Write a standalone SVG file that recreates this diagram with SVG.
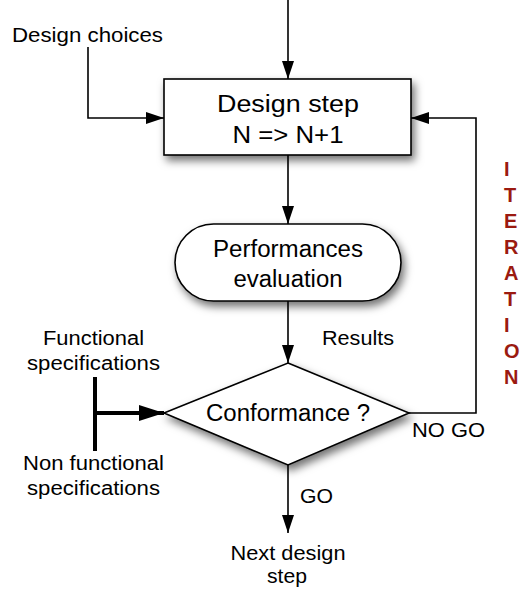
<svg xmlns="http://www.w3.org/2000/svg" width="520" height="590" viewBox="0 0 520 590">
  <style>
    text { font-family: "Liberation Sans", Arial, sans-serif; fill: #000; }
    .node-text { font-size: 23.5px; }
    .label { font-size: 20px; }
    .iter { font-size: 20px; font-weight: bold; fill: #9b1a10; }
    .shape { fill: #fff; stroke: #000; stroke-width: 1.6; filter: url(#shadow); }
    .wire { fill: none; stroke: #000; stroke-width: 1.6; }
    .wire-thick { fill: none; stroke: #000; stroke-width: 4; }
  </style>
  <defs>
    <filter id="shadow" x="-20%" y="-20%" width="150%" height="160%">
      <feDropShadow dx="3" dy="5" stdDeviation="4" flood-color="#000" flood-opacity="0.55"/>
    </filter>
    <marker id="arrow" markerUnits="userSpaceOnUse" markerWidth="18" markerHeight="12" refX="18" refY="6" orient="auto">
      <path d="M0,0 L18,6 L0,12 z" fill="#000"/>
    </marker>
    <marker id="arrow-big" markerUnits="userSpaceOnUse" markerWidth="25" markerHeight="16" refX="25" refY="8" orient="auto">
      <path d="M0,0 L25,8 L0,16 z" fill="#000"/>
    </marker>
  </defs>

  <rect width="520" height="590" fill="#fff"/>

  <!-- connectors -->
  <g id="connectors">
    <path class="wire" d="M288,0 V79" marker-end="url(#arrow)"/>
    <path class="wire" d="M88,47 V118 H164" marker-end="url(#arrow)"/>
    <path class="wire" d="M288,155 V224" marker-end="url(#arrow)"/>
    <path class="wire" d="M288,301 V363" marker-end="url(#arrow)"/>
    <path class="wire" d="M409,413 H476 V118 H411" marker-end="url(#arrow)"/>
    <path class="wire" d="M288,465 V533" marker-end="url(#arrow)"/>
    <path class="wire-thick" d="M95,377 V451"/>
    <path class="wire-thick" d="M95,413 H164" marker-end="url(#arrow-big)"/>
  </g>

  <!-- design step -->
  <g id="design-step">
    <rect class="shape" x="164" y="79" width="247" height="76"/>
    <text class="node-text" x="288" y="112" text-anchor="middle" textLength="142" lengthAdjust="spacingAndGlyphs">Design step</text>
    <text class="node-text" x="288" y="143" text-anchor="middle" textLength="111" lengthAdjust="spacingAndGlyphs">N =&gt; N+1</text>
  </g>

  <!-- performances evaluation -->
  <g id="performances-evaluation">
    <rect class="shape" x="175" y="224" width="226" height="77" rx="38.5" ry="38.5"/>
    <text class="node-text" x="288" y="257" text-anchor="middle" textLength="150" lengthAdjust="spacingAndGlyphs">Performances</text>
    <text class="node-text" x="288" y="287" text-anchor="middle" textLength="109" lengthAdjust="spacingAndGlyphs">evaluation</text>
  </g>

  <!-- conformance decision -->
  <g id="conformance">
    <polygon class="shape" points="288,363 409,413 288,465 164,413"/>
    <text class="node-text" x="288" y="421" text-anchor="middle" textLength="164" lengthAdjust="spacingAndGlyphs">Conformance ?</text>
  </g>

  <!-- labels -->
  <g id="design-choices">
    <text class="label" x="12" y="42" textLength="151" lengthAdjust="spacingAndGlyphs">Design choices</text>
  </g>
  <g id="results">
    <text class="label" x="322" y="345" textLength="72" lengthAdjust="spacingAndGlyphs">Results</text>
  </g>
  <g id="functional-specs">
    <text class="label" x="43" y="345" textLength="101" lengthAdjust="spacingAndGlyphs">Functional</text>
    <text class="label" x="27" y="370" textLength="133" lengthAdjust="spacingAndGlyphs">specifications</text>
  </g>
  <g id="non-functional-specs">
    <text class="label" x="23" y="470" textLength="141" lengthAdjust="spacingAndGlyphs">Non functional</text>
    <text class="label" x="27" y="495" textLength="133" lengthAdjust="spacingAndGlyphs">specifications</text>
  </g>
  <g id="no-go">
    <text class="label" x="412" y="437" textLength="73" lengthAdjust="spacingAndGlyphs">NO GO</text>
  </g>
  <g id="go">
    <text class="label" x="300" y="503" textLength="33" lengthAdjust="spacingAndGlyphs">GO</text>
  </g>
  <g id="next-step">
    <text class="label" x="288" y="560" text-anchor="middle" textLength="115" lengthAdjust="spacingAndGlyphs">Next design</text>
    <text class="label" x="287" y="583" text-anchor="middle" textLength="40" lengthAdjust="spacingAndGlyphs">step</text>
  </g>

  <!-- vertical iteration caption -->
  <g id="iteration">
    <text class="iter" x="504" y="176">I</text>
    <text class="iter" x="504" y="202">T</text>
    <text class="iter" x="504" y="228">E</text>
    <text class="iter" x="504" y="254">R</text>
    <text class="iter" x="504" y="280">A</text>
    <text class="iter" x="504" y="306">T</text>
    <text class="iter" x="504" y="332">I</text>
    <text class="iter" x="504" y="358">O</text>
    <text class="iter" x="504" y="384">N</text>
  </g>
</svg>
